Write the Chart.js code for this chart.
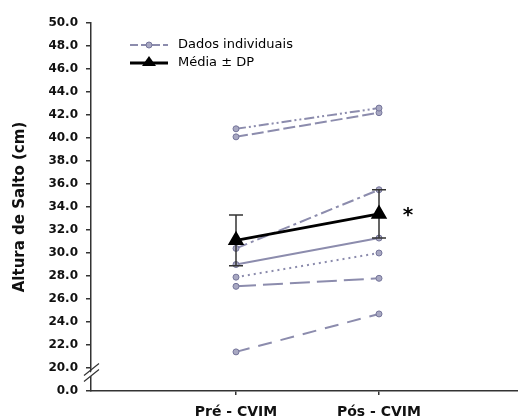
<!DOCTYPE html>
<html>
<head>
<meta charset="utf-8">
<script src="https://cdn.jsdelivr.net/npm/chart.js@4.4.0/dist/chart.umd.min.js"></script>
<style>
  body { margin: 0; background: #fff; }
  canvas { display: block; }
</style>
</head>
<body>
<canvas id="saltoChart" width="518" height="418"></canvas>
<script>
// values (cm)
const categories = ["Pré - CVIM", "Pós - CVIM"];
const subjectPre = [40.8, 40.1, 30.4, 29.0, 27.9, 27.1, 21.4];
const subjectPos = [42.6, 42.2, 35.5, 31.3, 30.0, 27.8, 24.7];
const meanValues = [31.1, 33.4];
const sdValues = [2.2, 2.1];
const yTickValues = [18, 20, 22, 24, 26, 28, 30, 32, 34, 36, 38, 40, 42, 44, 46, 48, 50];
const BREAK_AT = 18; // axis is broken: this position is labelled 0.0

const GREY = "#8c8cad";
const AXIS = "#333333";
const FONT = "DejaVu Sans";
const dashes = [
  [10, 3, 2, 3, 2, 3],
  [12, 4],
  [12, 4, 3, 4],
  [],
  [2, 4],
  [20, 7],
  [14, 9],
];

const subjectSets = subjectPre.map((v, i) => ({
  label: "Dados individuais",
  data: [{ x: 0, y: v }, { x: 1, y: subjectPos[i] }],
  borderColor: GREY,
  borderWidth: 2,
  borderDash: dashes[i],
  pointStyle: "circle",
  pointRadius: 3,
  pointBackgroundColor: "#a8a8c2",
  pointBorderColor: "#75759a",
  pointBorderWidth: 1,
}));

const meanSet = {
  label: "Média ± DP",
  data: meanValues.map((v, i) => ({ x: i, y: v })),
  borderColor: "#000",
  borderWidth: 3,
  pointStyle: "triangle",
  pointRadius: 6.5,
  pointBackgroundColor: "#000",
  pointBorderColor: "#000",
};

// error bars under the mean triangles
const errorBars = {
  id: "errorBars",
  beforeDatasetDraw(chart, args) {
    if (args.index !== 0) return;
    const { ctx, scales } = chart;
    ctx.save();
    ctx.strokeStyle = AXIS;
    ctx.lineWidth = 1.5;
    meanValues.forEach((m, i) => {
      const x = scales.x.getPixelForValue(i);
      const yt = scales.y.getPixelForValue(m + sdValues[i]);
      const yb = scales.y.getPixelForValue(m - sdValues[i]);
      ctx.beginPath();
      ctx.moveTo(x, yt); ctx.lineTo(x, yb);
      ctx.moveTo(x - 7, yt); ctx.lineTo(x + 7, yt);
      ctx.moveTo(x - 7, yb); ctx.lineTo(x + 7, yb);
      ctx.stroke();
    });
    ctx.restore();
  },
};

// legend, axis break and significance mark
const extras = {
  id: "extras",
  afterDraw(chart) {
    const { ctx, scales } = chart;
    ctx.save();
    // legend
    ctx.strokeStyle = GREY;
    ctx.lineWidth = 2;
    ctx.setLineDash([8, 3]);
    ctx.beginPath(); ctx.moveTo(130, 45); ctx.lineTo(168, 45); ctx.stroke();
    ctx.setLineDash([]);
    ctx.fillStyle = "#a8a8c2";
    ctx.strokeStyle = "#75759a";
    ctx.lineWidth = 1;
    ctx.beginPath(); ctx.arc(149, 45, 3, 0, Math.PI * 2); ctx.fill(); ctx.stroke();
    ctx.strokeStyle = "#000";
    ctx.lineWidth = 3;
    ctx.beginPath(); ctx.moveTo(130, 63); ctx.lineTo(168, 63); ctx.stroke();
    ctx.fillStyle = "#000";
    ctx.beginPath(); ctx.moveTo(149, 56); ctx.lineTo(156, 66); ctx.lineTo(142, 66); ctx.closePath(); ctx.fill();
    ctx.font = "13px '" + FONT + "'";
    ctx.textBaseline = "middle";
    ctx.fillText(subjectSets[0].label, 178, 45);
    ctx.fillText(meanSet.label, 178, 63);

    // axis break
    const yb = scales.y.getPixelForValue(19.7);
    ctx.fillStyle = "#fff";
    ctx.beginPath();
    ctx.moveTo(84, yb + 6); ctx.lineTo(99, yb - 6); ctx.lineTo(99, yb - 2); ctx.lineTo(84, yb + 10);
    ctx.closePath(); ctx.fill();
    ctx.strokeStyle = AXIS;
    ctx.lineWidth = 1.2;
    ctx.beginPath();
    ctx.moveTo(84, yb + 4); ctx.lineTo(99, yb - 8);
    ctx.moveTo(84, yb + 10); ctx.lineTo(99, yb - 2);
    ctx.stroke();

    // significance asterisk
    ctx.fillStyle = "#000";
    ctx.font = "bold 20px '" + FONT + "'";
    ctx.textAlign = "center";
    ctx.fillText("*", scales.x.getPixelForValue(1) + 29, scales.y.getPixelForValue(meanValues[1]) + 2);
    ctx.restore();
  },
};

new Chart(document.getElementById("saltoChart"), {
  type: "line",
  data: { datasets: [meanSet, ...subjectSets] },
  options: {
    responsive: false,
    animation: false,
    layout: { autoPadding: false, padding: { top: 23, right: 0, left: 0, bottom: 0 } },
    plugins: { legend: { display: false }, tooltip: { enabled: false } },
    scales: {
      x: {
        type: "linear",
        min: -1.014,
        max: 1.972,
        afterBuildTicks: (s) => { s.ticks = categories.map((c, i) => ({ value: i })); },
        afterFit: (s) => { s.height = 27; s.paddingLeft = 0; s.paddingRight = 0; },
        ticks: {
          callback: (v) => categories[v],
          font: { family: FONT, size: 14, weight: "bold" },
          color: "#111",
          padding: 9,
          maxRotation: 0,
        },
        grid: { drawOnChartArea: false, tickLength: 4, color: AXIS, lineWidth: 1.5 },
        border: { color: AXIS, width: 1.5 },
      },
      y: {
        min: BREAK_AT,
        max: 50,
        afterBuildTicks: (s) => { s.ticks = yTickValues.map((v) => ({ value: v })); },
        afterFit: (s) => { s.width = 91; s.paddingTop = 0; s.paddingBottom = 0; },
        ticks: {
          callback: (v) => (v === BREAK_AT ? "0.0" : v.toFixed(1)),
          font: { family: FONT, size: 12, weight: "bold" },
          color: "#111",
          padding: 8,
        },
        title: {
          display: true,
          text: "Altura de Salto (cm)",
          font: { family: FONT, size: 15, weight: "bold" },
          color: "#111",
          padding: { top: 11, bottom: 0 },
        },
        grid: { drawOnChartArea: false, tickLength: 5, color: AXIS, lineWidth: 1.5 },
        border: { color: AXIS, width: 1.5 },
      },
    },
  },
  plugins: [errorBars, extras],
});
</script>
</body>
</html>
